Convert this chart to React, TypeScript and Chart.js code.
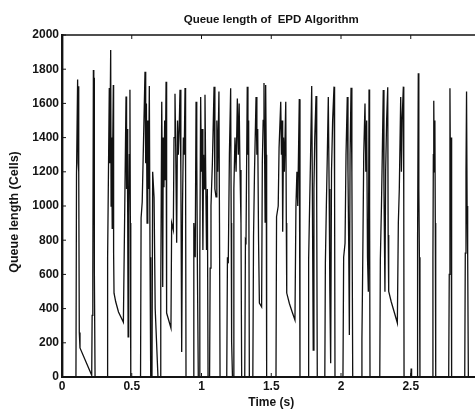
import React, { useEffect, useRef } from "react";
import { Chart, registerables } from "chart.js";

Chart.register(...registerables);

const chartTitle = "Queue length of  EPD Algorithm";
const xTitle = "Time (s)";
const yTitle = "Queue length (Cells)";
const yTicks = [0, 200, 400, 600, 800, 1000, 1200, 1400, 1600, 1800, 2000];
const xTicks = [0, 0.5, 1, 1.5, 2, 2.5, 3];

const timeS = [
  0, 0.1,
  0.104, 0.112, 0.116, 0.119, 0.121, 0.124, 0.129, 0.213,
  0.216, 0.221, 0.225, 0.228, 0.23, 0.232, 0.237, 0.323,
  0.327, 0.339, 0.342, 0.349, 0.352, 0.356, 0.36, 0.364, 0.368, 0.37, 0.373, 0.385, 0.405, 0.44,
  0.45, 0.459, 0.463, 0.467, 0.471, 0.474, 0.478, 0.483, 0.487, 0.49, 0.493,
  0.563, 0.567, 0.575, 0.595, 0.6, 0.605, 0.61, 0.615, 0.62, 0.626, 0.631, 0.636,
  0.645, 0.65, 0.66, 0.668, 0.688, 0.703, 0.708, 0.715, 0.719, 0.722, 0.726, 0.731, 0.736, 0.74, 0.746, 0.75, 0.781,
  0.786, 0.798, 0.803, 0.81, 0.815, 0.822, 0.828, 0.834, 0.84, 0.846, 0.852, 0.858, 0.864, 0.87, 0.876, 0.882, 0.886, 0.889,
  0.941, 0.945, 0.955, 0.961, 0.966, 0.971, 0.977, 0.984, 0.988, 0.994, 0.999, 1.004, 1.01, 1.015, 1.02, 1.025, 1.03, 1.036, 1.042, 1.047,
  1.058, 1.062, 1.068, 1.078, 1.09, 1.096, 1.104, 1.11, 1.116, 1.125, 1.129, 1.133,
  1.181, 1.186, 1.192, 1.2, 1.209, 1.213, 1.216, 1.222, 1.226, 1.232, 1.24, 1.248, 1.257, 1.264, 1.27, 1.276, 1.283, 1.288,
  1.31, 1.315, 1.319, 1.328, 1.333, 1.338, 1.343,
  1.368, 1.373, 1.38, 1.391, 1.397, 1.403, 1.409, 1.415, 1.431, 1.436, 1.442, 1.448, 1.452, 1.456, 1.46, 1.464, 1.467,
  1.534, 1.538, 1.55, 1.556, 1.568, 1.573, 1.578, 1.582, 1.588, 1.594, 1.604, 1.608, 1.611, 1.63, 1.65, 1.67, 1.677, 1.684, 1.69, 1.701, 1.706,
  1.764, 1.768, 1.775, 1.782, 1.79, 1.794, 1.801, 1.806, 1.812, 1.821, 1.826, 1.83,
  1.884, 1.888, 1.895, 1.902, 1.909, 1.915, 1.92, 1.926, 1.932, 1.94, 1.95, 1.954, 1.957,
  2.014, 2.019, 2.029, 2.036, 2.045, 2.05, 2.055, 2.06, 2.065, 2.072, 2.078, 2.084,
  2.145, 2.15, 2.155, 2.163, 2.172, 2.178, 2.184, 2.19, 2.196, 2.201, 2.205, 2.208,
  2.278, 2.282, 2.29, 2.296, 2.303, 2.308, 2.315, 2.32, 2.327, 2.335, 2.338, 2.342, 2.36, 2.385, 2.404, 2.411, 2.418, 2.428, 2.433, 2.438, 2.447, 2.45, 2.452,
  2.5, 2.503, 2.506, 2.545, 2.549, 2.554, 2.558, 2.562, 2.566,
  2.655, 2.659, 2.662, 2.665, 2.669, 2.673, 2.676, 2.679,
  2.772, 2.776, 2.781, 2.785, 2.789, 2.793,
  2.887, 2.891, 2.896, 2.9, 2.904, 2.908, 2.913, 3.0,
];

const queueCells = [
  0, 0,
  1180, 1740, 1250, 1700, 1200, 260, 170, 10,
  360, 600, 1795, 1520, 1750, 610, 0, 0,
  700, 1690, 1250, 1912, 1000, 1400, 870, 1380, 1707, 725, 490, 440, 380, 320,
  1000, 1640, 1100, 1450, 950, 235, 935, 1300, 1680, 900, 0,
  0, 930, 1023, 1785, 1250, 1600, 900, 1500, 1100, 1702, 700, 0,
  0, 1200, 1050, 400, 0, 0, 527, 1610, 1150, 527, 1400, 1110, 1500, 1150, 1727, 374, 287,
  900, 860, 1400, 1657, 1350, 785, 1500, 1300, 1450, 1680, 1200, 146, 1000, 1400, 1300, 1690, 1200, 0,
  0, 900, 700, 1610, 1300, 600, 0, 0, 725, 1637, 1200, 1450, 743, 1300, 1100, 1650, 1200, 743, 1100, 0,
  0, 637, 1000, 1250, 1698, 1100, 1054, 1500, 1200, 1670, 900, 0,
  0, 700, 665, 1300, 1688, 900, 205, 0, 0, 1100, 1400, 1200, 1629, 1300, 1600, 1210, 900, 0,
  0, 800, 791, 1698, 1300, 1500, 0,
  0, 819, 1200, 1637, 1300, 1450, 800, 433, 410, 1251, 1500, 1719, 1350, 906, 1708, 1300, 0,
  0, 937, 1000, 1339, 1610, 1300, 1500, 850, 1400, 1200, 1610, 900, 491, 430, 380, 333, 1000, 1200, 1000, 1625, 0,
  0, 684, 1000, 1300, 1702, 1200, 158, 1100, 1400, 1643, 1000, 0,
  0, 666, 1000, 1300, 1637, 1100, 500, 80, 1200, 1500, 1698, 1100, 0,
  0, 700, 782, 1300, 1637, 1200, 800, 245, 1300, 1692, 1200, 0,
  0, 220, 600, 1300, 1600, 1200, 1500, 700, 499, 1681, 1000, 0,
  0, 684, 1000, 1300, 1678, 1100, 499, 1200, 1500, 1694, 830, 500, 440, 370, 316, 900, 1100, 1637, 1200, 1500, 1698, 1000, 0,
  0, 50, 0, 0, 800, 1776, 1100, 700, 0,
  0, 700, 1300, 1616, 1200, 1500, 900, 0,
  0, 600, 1688, 1100, 1400, 0,
  0, 725, 1200, 1669, 1000, 725, 0, 0,
];

const FONT = "'Liberation Sans', Arial, Helvetica, sans-serif";
const INK = "#141414";

const framePlugin = {
  id: "matlabFrame",
  afterDraw(chart: any) {
    const { ctx, chartArea } = chart;
    const xs = chart.scales.x;
    const ys = chart.scales.y;
    ctx.save();
    ctx.strokeStyle = INK;
    ctx.lineWidth = 1.5;
    ctx.beginPath();
    ctx.moveTo(chartArea.left, chartArea.top);
    ctx.lineTo(chartArea.right, chartArea.top);
    ctx.lineTo(chartArea.right, chartArea.bottom);
    ctx.stroke();
    ctx.lineWidth = 1;
    ctx.beginPath();
    xTicks.forEach((v) => {
      const px = xs.getPixelForValue(v);
      ctx.moveTo(px, chartArea.bottom);
      ctx.lineTo(px, chartArea.bottom - 4);
      ctx.moveTo(px, chartArea.top);
      ctx.lineTo(px, chartArea.top + 4);
    });
    yTicks.forEach((v) => {
      const py = ys.getPixelForValue(v);
      ctx.moveTo(chartArea.left, py);
      ctx.lineTo(chartArea.left + 4, py);
      ctx.moveTo(chartArea.right, py);
      ctx.lineTo(chartArea.right - 4, py);
    });
    ctx.stroke();
    ctx.fillStyle = INK;
    ctx.textAlign = "center";
    ctx.textBaseline = "middle";
    ctx.font = `bold 11.5px ${FONT}`;
    ctx.fillText(chartTitle, (chartArea.left + chartArea.right) / 2, 20);
    ctx.translate(15, 212);
    ctx.rotate(-Math.PI / 2);
    ctx.font = `bold 12.5px ${FONT}`;
    ctx.fillText(yTitle, 0, 0);
    ctx.restore();
  },
};

export default function App() {
  const ref = useRef<HTMLCanvasElement | null>(null);
  useEffect(() => {
    if (!ref.current) return;
    const points = timeS.map((t, i) => ({ x: t, y: queueCells[i] }));
    const chart = new Chart(ref.current, {
      type: "line",
      data: {
        datasets: [
          {
            data: points,
            borderColor: "#111",
            borderWidth: 1.3,
            pointRadius: 0,
            tension: 0,
            fill: false,
          },
        ],
      },
      options: {
        animation: false,
        responsive: false,
        events: [],
        layout: { padding: { left: 0, top: 35, right: 19.5, bottom: 0 } },
        plugins: { legend: { display: false }, tooltip: { enabled: false }, title: { display: false } },
        scales: {
          x: {
            type: "linear",
            min: 0,
            max: 3,
            afterBuildTicks: (s: any) => {
              s.ticks = xTicks.map((v) => ({ value: v }));
            },
            afterFit: (s: any) => {
              s.height = 33;
            },
            grid: { display: false, drawTicks: false },
            border: { display: true, color: INK, width: 2 },
            ticks: {
              color: INK,
              padding: 2.8,
              maxRotation: 0,
              autoSkip: false,
              font: { family: FONT, size: 12, weight: "bold" },
              callback: (v: any) => (Number(v) >= 3 ? "" : String(v)),
            },
            title: {
              display: true,
              text: xTitle,
              color: INK,
              font: { family: FONT, size: 12, weight: "bold" },
              padding: { top: 0, bottom: 0 },
            },
          },
          y: {
            type: "linear",
            min: 0,
            max: 2000,
            afterBuildTicks: (s: any) => {
              s.ticks = yTicks.map((v) => ({ value: v }));
            },
            afterFit: (s: any) => {
              s.width = 62;
            },
            grid: { display: false, drawTicks: false },
            border: { display: true, color: INK, width: 2.4 },
            ticks: {
              color: INK,
              padding: 3,
              autoSkip: false,
              font: { family: FONT, size: 12, weight: "bold" },
              callback: (v: any) => String(v),
            },
            title: { display: false },
          },
        },
      },
      plugins: [framePlugin],
    });
    return () => chart.destroy();
  }, []);
  return (
    <div style={{ position: "fixed", left: 0, top: 0, width: 500, height: 410, overflow: "hidden", background: "#fff" }}>
      <canvas ref={ref} width={500} height={410} style={{ width: 500, height: 410, display: "block" }} />
    </div>
  );
}
